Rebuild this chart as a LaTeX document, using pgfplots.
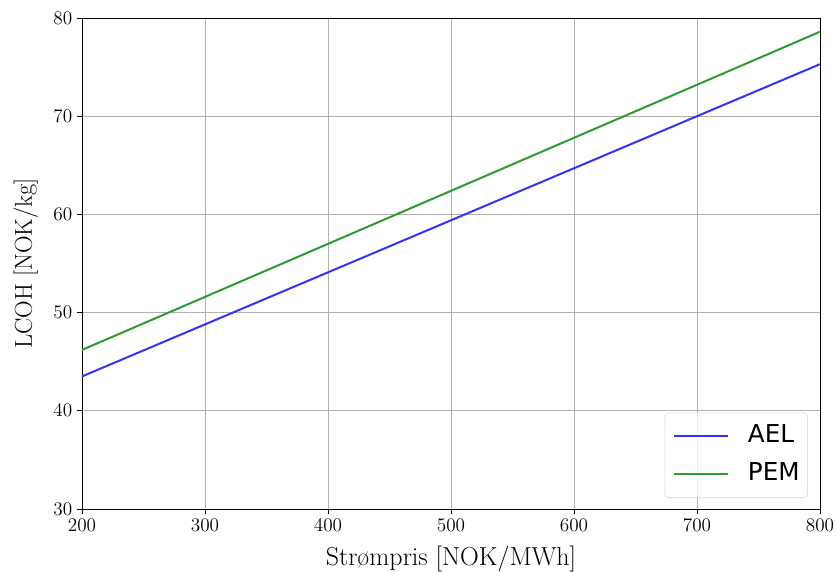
\documentclass[border=0pt]{standalone}
\usepackage{fontspec}
\usepackage{pgfplots}
\pgfplotsset{compat=1.18}
\newfontfamily\legendfont{DejaVu Sans}
\definecolor{aelblue}{HTML}{3333FF}
\definecolor{pemgreen}{HTML}{2E9B2E}
\definecolor{gridgray}{HTML}{B0B0B0}
\definecolor{legframe}{HTML}{D6D6D6}

\begin{document}
\begin{tikzpicture}
\begin{axis}[
  at={(0,0)}, anchor=south west,
  scale only axis, width=553.5pt, height=368.25pt,
  xmin=200, xmax=800, ymin=30, ymax=80,
  xtick={200,300,...,800}, ytick={30,40,...,80},
  grid=major, grid style={draw=gridgray, line width=0.6pt},
  axis line style={line width=0.7pt},
  tick align=outside, tick pos=left, major tick length=3.75pt,
  tick style={black, line width=0.6pt},
  tick label style={font=\fontsize{15}{18}\selectfont},
  xlabel={Strømpris [NOK/MWh]},
  ylabel={LCOH [NOK/kg]},
  xlabel style={font=\fontsize{19.5}{23}\selectfont,
    at={(axis description cs:0.5,-0.116)}, anchor=base},
  ylabel style={font=\fontsize{18.3}{22}\selectfont,
    at={(axis description cs:-0.068,0.5)}, anchor=base},
  legend style={at={(rel axis cs:0.9837,0.0224)}, anchor=south east,
    font=\legendfont\fontsize{18.5}{22}\selectfont,
    draw=legframe, fill=white, fill opacity=0.8, text opacity=1,
    rounded corners=3pt, inner xsep=6pt, inner ysep=8.6pt,
    row sep=10.5pt, column sep=14.25pt,
    nodes={inner xsep=0pt, inner ysep=0pt, text height=14pt, text depth=4pt}},
  legend cell align=left,
  legend image code/.code={\draw[#1] (0pt,0pt) -- (40.5pt,0pt);},
]
\addplot[aelblue, line width=1.5pt] table {
x y
200 43.5
300 48.8
400 54.1
500 59.4
600 64.7
700 70.0
800 75.3
};
\addlegendentry{AEL}
\addplot[pemgreen, line width=1.5pt] table {
x y
200 46.2
300 51.6
400 57.0
500 62.4
600 67.8
700 73.2
800 78.6
};
\addlegendentry{PEM\hspace{3.75pt}}
\end{axis}
\pgfresetboundingbox
\path (-61.5pt,-46.5pt) rectangle (566.25pt,381.75pt);
\end{tikzpicture}
\end{document}
